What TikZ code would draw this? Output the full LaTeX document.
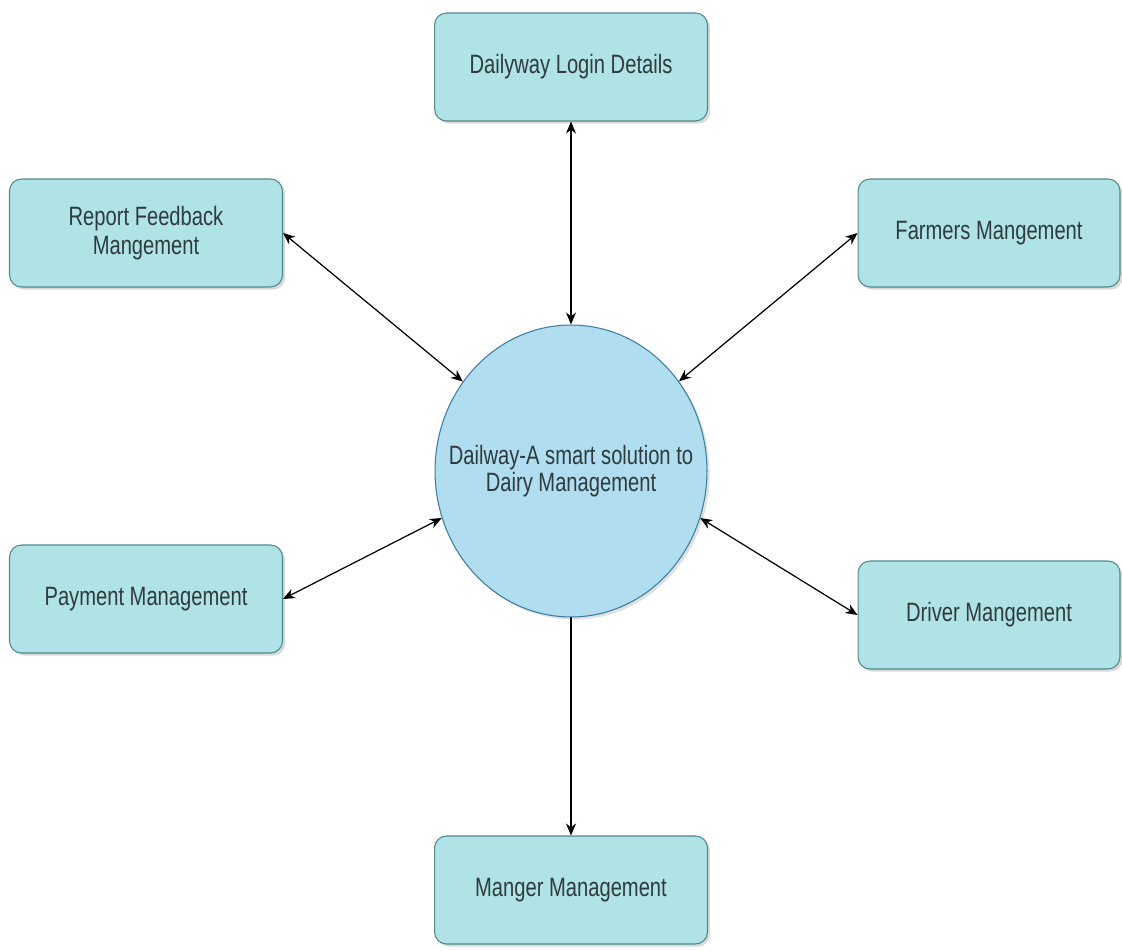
\documentclass[tikz,border=0pt]{standalone}
\usepackage{fontspec}
\setmainfont{Liberation Sans}[FakeStretch=0.76]
\usepackage{tikz}
\usetikzlibrary{shapes.geometric,shadows,arrows.meta}

\definecolor{boxfill}{HTML}{B0E3E6}
\definecolor{boxline}{HTML}{4E8A8E}
\definecolor{hubfill}{HTML}{B1DDF0}
\definecolor{hubline}{HTML}{3A7FA3}
\definecolor{textcol}{HTML}{2F3B3D}

\begin{document}
\begin{tikzpicture}[x=0.02cm,y=0.02cm,
  module/.style={draw=boxline, fill=boxfill, rounded corners=0.24cm, line width=0.6pt,
    minimum width=5.46cm, minimum height=2.16cm, align=center, text=textcol,
    font=\fontsize{15.1}{16.5}\selectfont,
    drop shadow={shadow xshift=1.5pt, shadow yshift=-1.5pt, opacity=0.25, fill=black!60}},
  hub/.style={ellipse, draw=hubline, fill=hubfill, line width=0.6pt, inner sep=0pt,
    minimum width=5.44cm, minimum height=5.84cm,
    drop shadow={shadow xshift=1.5pt, shadow yshift=-1.5pt, opacity=0.2, fill=black!60}},
  hubtext/.style={align=center, text=textcol, font=\fontsize{15.1}{15}\selectfont},
  link/.style={{Stealth[length=2.4mm,width=2mm]}-{Stealth[length=2.4mm,width=2mm]}, line width=0.7pt},
  feed/.style={-{Stealth[length=2.4mm,width=2mm]}, line width=0.7pt}]
  \useasboundingbox (0,0) rectangle (1122,950);
  % modules round the centre
  \node[module] (login) at (571,883) {Dailyway Login Details};
  \node[module] (report) at (146,717) {Report Feedback\\Mangement};
  \node[module, minimum width=5.24cm] (farmers) at (989,717) {Farmers Mangement};
  \node[module] (payment) at (146,351) {Payment Management};
  \node[module, minimum width=5.24cm] (driver) at (989,335) {Driver Mangement};
  \node[module] (manager) at (571,60) {Manger Management};
  % centre
  \node[hub] (hub) at (571,479) {};
  \node[hubtext] (hublabel) at (hub.center) {Dailway-A smart solution to\\Dairy Management};
  % connectors
  \draw[link] (login) -- (hub);
  \draw[link] (report.east) -- (hub);
  \draw[link] (farmers.west) -- (hub);
  \draw[link] (payment.east) -- (hub.200);
  \draw[link] (driver.west) -- (hub.-20);
  \draw[feed] (hub) -- (manager);
\end{tikzpicture}
\end{document}
